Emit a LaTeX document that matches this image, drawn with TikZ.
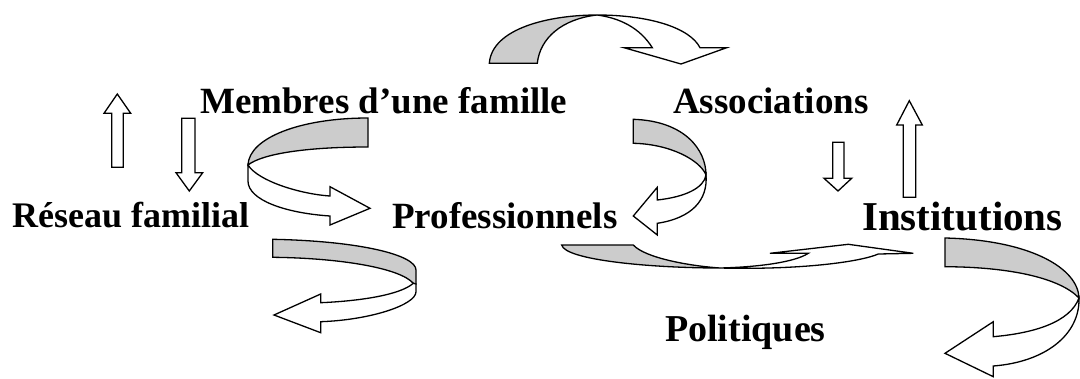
\documentclass[tikz,border=0pt]{standalone}
\usepackage{fontspec}
\setmainfont{Liberation Serif}
\begin{document}
\begin{tikzpicture}[x=1pt,y=-1pt,
  lbl/.style={font=\fontsize{37}{40}\selectfont\bfseries, inner sep=0pt, anchor=base west},
  back/.style={draw=black, fill=black!20, line width=1.3pt, line join=miter},
  front/.style={draw=black, fill=white, line width=1.3pt, line join=miter},
  blockarrow/.style={draw=black, fill=white, line width=1.3pt, line join=miter}]
\useasboundingbox (0,0) rectangle (1080,378);

% labels
\node[lbl] (membres) at (200,113) {Membres d’une famille};
\node[lbl] (assoc) at (673,113) {Associations};
\node[lbl, font=\fontsize{36}{40}\selectfont\bfseries] (reseau) at (12,227) {Réseau familial};
\node[lbl] (prof) at (392,228) {Professionnels};
\node[lbl, font=\fontsize{41}{44}\selectfont\bfseries] (inst) at (862,230) {Institutions};
\node[lbl, font=\fontsize{38}{42}\selectfont\bfseries] (pol) at (665,341) {Politiques};

% straight block arrows
\draw[blockarrow] (111.7,167.3) -- (111.7,113.3) -- (104,113.3) -- (117.3,94) -- (130.7,113.3) -- (123.3,113.3) -- (123.3,167.3) -- cycle;
\draw[blockarrow] (181.7,118.3) -- (181.7,172.7) -- (176,172.7) -- (189.3,191) -- (202.7,172.7) -- (195,172.7) -- (195,118.3) -- cycle;
\draw[blockarrow] (832.7,142.3) -- (832.7,178.3) -- (824,178.3) -- (838,191) -- (851.7,178.3) -- (844,178.3) -- (844,142.3) -- cycle;
\draw[blockarrow] (903.3,197.3) -- (903.3,125) -- (896.7,125) -- (909.3,100.7) -- (922.3,125) -- (915.7,125) -- (915.7,197.3) -- cycle;

% arrow 1 (top, curved down)
\draw[back] (489.3,63.3) .. controls (492,28) and (550,15) .. (597,15) .. controls (562,19) and (540,38) .. (537.3,63.3) -- cycle;
\draw[front] (597,15) .. controls (650,15) and (690,28) .. (700,47.7) -- (726.7,47.7) -- (681,64) -- (624,47.7) -- (652.3,47.7) .. controls (640,28) and (620,18) .. (597,15) -- cycle;

% arrow 2 (membres -> professionnels)
\draw[back] (368,118) .. controls (300,118) and (249,138) .. (248,165) .. controls (262,154) and (305,147) .. (368,147) -- cycle;
\draw[front] (248,165) .. controls (258,181) and (300,194) .. (330,196) -- (330,186.7) -- (370,208.3) -- (330,225) -- (330,216) .. controls (285,213) and (248,200) .. (248,181) -- cycle;

% arrow 3 (reseau, bottom left)
\draw[back] (272.7,239.3) .. controls (360,241) and (416,255) .. (416,270) -- (416,284) -- (413.3,283.3) .. controls (400,268) and (340,258) .. (272.7,257.3) -- cycle;
\draw[front] (413.3,283.3) .. controls (400,295) and (360,301) .. (320.7,302.7) -- (320.7,294) -- (274,315) -- (320.7,332.7) -- (320.7,321.7) .. controls (370,320) and (416,305) .. (416,291.7) -- (416,284) -- cycle;

% arrow 4 (associations -> professionnels)
\draw[back] (633.3,119.3) .. controls (685,121) and (706,150) .. (706,175) .. controls (700,160) and (670,144) .. (633.3,143.3) -- cycle;
\draw[front] (706,175) .. controls (704,188) and (685,197) .. (657.3,200) -- (657.3,187.3) -- (633.3,216) -- (657.3,235) -- (657.3,223.3) .. controls (692,218) and (708,200) .. (706,175) -- cycle;

% arrow 5 (professionnels -> institutions)
\draw[back] (561.7,245) -- (633.3,245) .. controls (645,258) and (690,266) .. (720,268) .. controls (650,268) and (565,260) .. (561.7,245) -- cycle;
\draw[front] (720,268) .. controls (760,267) and (795,262) .. (808.3,253.3) -- (770,253.3) -- (848.3,244.3) -- (913.3,253.3) -- (878.3,254) .. controls (860,262) and (800,270) .. (720,268) -- cycle;

% arrow 6 (institutions -> politiques)
\draw[back] (945,238) .. controls (1030,240) and (1078,268) .. (1079,298) .. controls (1060,278) and (1010,267) .. (945,266.7) -- cycle;
\draw[front] (1079,298) .. controls (1070,322) and (1035,333) .. (993.3,336.7) -- (993.3,321.7) -- (945,353.3) -- (993.3,376.7) -- (993.3,366) .. controls (1045,362) and (1080,335) .. (1079,298) -- cycle;
\end{tikzpicture}
\end{document}
